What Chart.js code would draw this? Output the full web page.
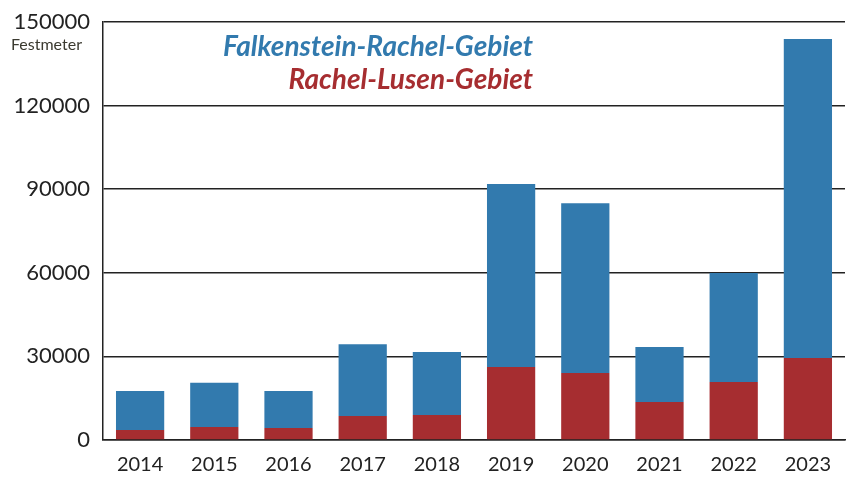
<!DOCTYPE html>
<html>
<head>
<meta charset="utf-8">
<script src="https://cdn.jsdelivr.net/npm/chart.js@4"></script>
<style>
  html, body { margin: 0; padding: 0; background: #fff; }
  #wrap { width: 851px; height: 479px; }
</style>
</head>
<body>
<div id="wrap"><canvas id="holz"></canvas></div>
<script>
const years = ['2014', '2015', '2016', '2017', '2018', '2019', '2020', '2021', '2022', '2023'];
// Festmeter je Gebiet (gestapelt)
const rachelLusen = [3600, 4700, 4300, 8600, 9000, 26200, 24000, 13600, 20800, 29400];
const falkensteinRachel = [14000, 15800, 13300, 25800, 22600, 65700, 61000, 19800, 39100, 114500];
const yTicks = [0, 30000, 60000, 90000, 120000, 150000];

const blau = 'rgb(50,122,174)';
const rot = 'rgb(166,45,48)';

// Beschriftung oben + Einheit
const textPlugin = {
  id: 'texte',
  afterDraw(chart) {
    const c = chart.ctx;
    c.save();
    c.textBaseline = 'middle';
    c.textAlign = 'left';
    c.fillStyle = '#3b3a30';
    c.font = '16px Lato';
    c.fillText('Festmeter', 11, 45);

    c.textAlign = 'right';
    c.font = 'italic bold 28px Lato';
    c.fillStyle = blau;
    c.fillText('Falkenstein-Rachel-Gebiet', 533, 47);
    c.fillStyle = rot;
    c.fillText('Rachel-Lusen-Gebiet', 533, 80);
    c.restore();
  }
};

new Chart(document.getElementById('holz'), {
  type: 'bar',
  data: {
    labels: years,
    datasets: [
      {
        label: 'Rachel-Lusen-Gebiet',
        data: rachelLusen,
        backgroundColor: rot,
        categoryPercentage: 1,
        barPercentage: 0.65
      },
      {
        label: 'Falkenstein-Rachel-Gebiet',
        data: falkensteinRachel,
        backgroundColor: blau,
        categoryPercentage: 1,
        barPercentage: 0.65
      }
    ]
  },
  options: {
    responsive: true,
    maintainAspectRatio: false,
    animation: false,
    layout: { padding: { top: 0, right: 6, left: 0, bottom: 0 } },
    plugins: {
      legend: { display: false },
      tooltip: { enabled: false }
    },
    scales: {
      x: {
        stacked: true,
        afterFit(axis) { axis.height = 39; },
        grid: { display: false, drawTicks: false },
        border: { display: true, color: '#222', width: 1.5 },
        ticks: { color: '#222', font: { family: 'Lato', size: 20 }, padding: 13 }
      },
      y: {
        stacked: true,
        min: 0,
        max: 150000,
        afterBuildTicks(axis) {
          axis.ticks = yTicks.map(v => ({ value: v }));
        },
        afterFit(axis) { axis.width = 103; axis.paddingTop = 22; },
        grid: { color: '#222', lineWidth: 1.5, drawTicks: false },
        border: { display: true, color: '#222', width: 1.5 },
        ticks: {
          color: '#222',
          font: { family: 'Lato', size: 22, lineHeight: 1 },
          padding: 13,
          callback: v => String(v)
        }
      }
    }
  },
  plugins: [textPlugin]
});
</script>
</body>
</html>
